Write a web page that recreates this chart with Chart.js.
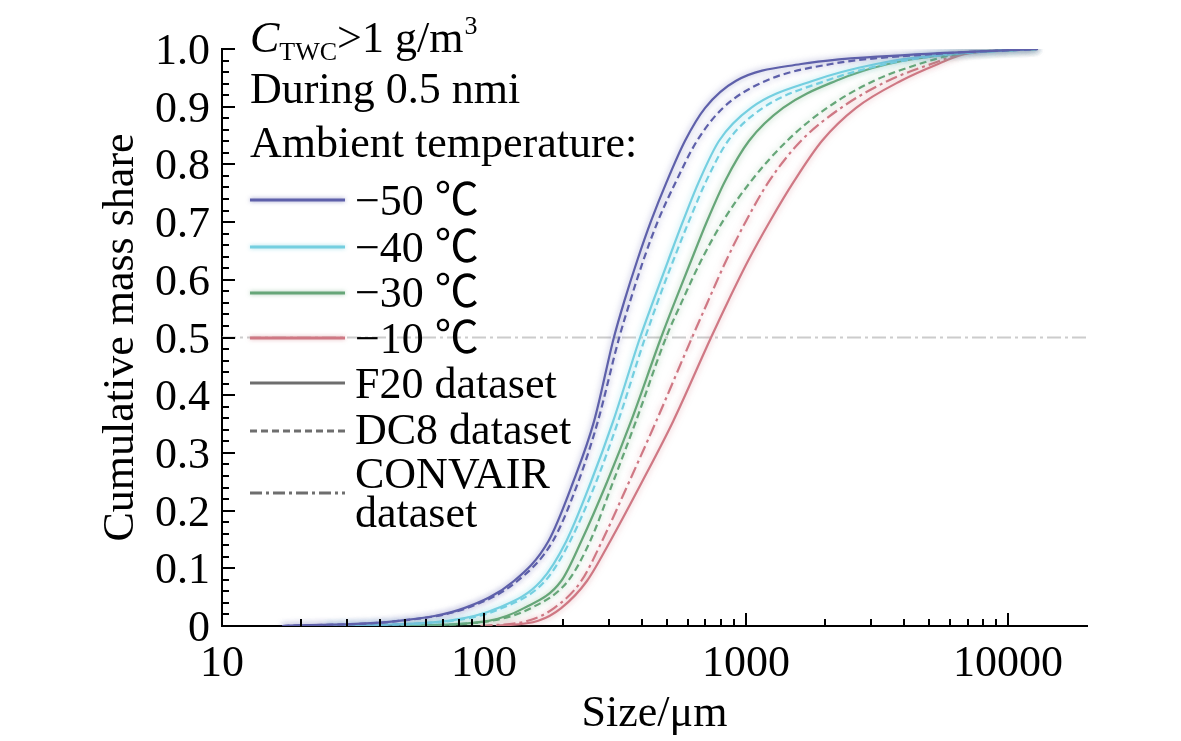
<!DOCTYPE html>
<html><head><meta charset="utf-8">
<script src="https://cdn.jsdelivr.net/npm/chart.js@4.4.1/dist/chart.umd.min.js"></script>
<style>html,body{margin:0;padding:0;background:#fff;} canvas{display:block;}</style>
</head><body>
<canvas id="c" width="1181" height="741"></canvas>
<script>
// ---- data (cumulative mass share levels and particle sizes in µm) ----
const cumShare      = [0, 0.009, 0.031, 0.078, 0.147, 0.25, 0.355, 0.5, 0.563, 0.633, 0.702, 0.771, 0.841, 0.898, 0.945, 0.974, 0.991, 1.0];
const size_m50_F20  = [17, 47, 84, 130, 176, 219, 263, 313, 343, 384, 434, 499, 585, 698, 916, 1622, 4655, 13000];
const size_m50_DC8  = [17, 48, 86, 134, 183, 229, 272, 328, 361, 405, 461, 541, 650, 817, 1192, 2110, 5083, 13000];
const size_m40_F20  = [25, 73, 113, 165, 206, 256, 311, 394, 442, 504, 575, 662, 789, 1045, 1802, 3135, 5799, 13000];
const size_m40_DC8  = [25, 75, 117, 171, 213, 268, 325, 412, 461, 527, 606, 704, 854, 1161, 2020, 3423, 6060, 13000];
const size_m30_F20  = [48, 104, 142, 197, 235, 295, 364, 474, 536, 617, 710, 831, 1027, 1384, 2206, 3484, 6060, 13000];
const size_m30_DC8  = [50, 106, 151, 209, 254, 311, 380, 495, 570, 673, 817, 1045, 1434, 2038, 3080, 4574, 6331, 13000];
const size_m10_CONV = [97, 147, 185, 235, 282, 358, 454, 622, 716, 839, 1000, 1224, 1622, 2305, 3484, 5083, 6616, 13000];
const size_m10_F20  = [111, 161, 197, 247, 303, 401, 527, 735, 854, 1018, 1235, 1525, 1950, 2629, 3905, 5404, 6794, 13000];
const refSize  = [10, 20000];
const refShare = [0.5, 0.5];

const xTickLabels = ['10', '100', '1000', '10000'];
const xTickValues = [10, 100, 1000, 10000];
const yTickLabels = ['0', '0.1', '0.2', '0.3', '0.4', '0.5', '0.6', '0.7', '0.8', '0.9', '1.0'];
const xTitle = 'Size/μm';
const yTitle = 'Cumulative mass share';
const legendTemps = ['−50 ℃', '−40 ℃', '−30 ℃', '−10 ℃'];
const legendStyles = ['F20 dataset', 'DC8 dataset', 'CONVAIR', 'dataset'];

// ---- styles ----
const C_BLUE = '#5e60aa', C_CYAN = '#74cfe0', C_GREEN = '#66a678', C_RED = '#cf7884', C_GRAY = '#6e6e6e';
const G_BLUE = 'rgba(94,96,170,0.6)', G_CYAN = 'rgba(116,207,224,0.65)', G_GREEN = 'rgba(102,166,120,0.55)', G_RED = 'rgba(207,120,132,0.55)';
const DASH = [7, 4], DASHDOT = [12, 4, 3, 4];
const FONT = "'Liberation Serif', 'Noto Sans CJK SC', serif";

function pts(sizes) { return cumShare.map((y, i) => ({x: sizes[i], y: y})); }
function ds(sizes, color, glow, dash) {
  return {data: pts(sizes), borderColor: color, glow: glow, borderDash: dash, borderWidth: 2.2,
          pointRadius: 0, cubicInterpolationMode: 'monotone', fill: false};
}

const datasets = [
  ds(size_m50_F20, C_BLUE, G_BLUE, []),
  ds(size_m50_DC8, C_BLUE, G_BLUE, DASH),
  ds(size_m40_F20, C_CYAN, G_CYAN, []),
  ds(size_m40_DC8, C_CYAN, G_CYAN, DASH),
  ds(size_m30_F20, C_GREEN, G_GREEN, []),
  ds(size_m30_DC8, C_GREEN, G_GREEN, DASH),
  ds(size_m10_CONV, C_RED, G_RED, DASHDOT),
  ds(size_m10_F20, C_RED, G_RED, []),
  {data: refSize.map((x, i) => ({x: x, y: refShare[i]})), borderColor: '#cccccc', borderWidth: 2,
   borderDash: [14, 4, 3, 4], pointRadius: 0, fill: false, glow: null, order: 10}
];

const glowPlugin = {
  id: 'glow',
  beforeDatasetDraw(chart, args) {
    const d = chart.data.datasets[args.index];
    chart.ctx.save();
    if (d.glow) { chart.ctx.shadowColor = d.glow; chart.ctx.shadowBlur = 6; }
  },
  afterDatasetDraw(chart) { chart.ctx.restore(); }
};

const decorPlugin = {
  id: 'decor',
  afterDraw(chart) {
    const ctx = chart.ctx, xs = chart.scales.x, ys = chart.scales.y, area = chart.chartArea;
    ctx.save();
    ctx.strokeStyle = '#000'; ctx.lineWidth = 2; ctx.lineCap = 'butt';
    // y ticks (inward)
    for (let k = 0; k <= 50; k++) {
      const v = k / 50, py = Math.round(ys.getPixelForValue(v));
      const len = (k % 5 === 0) ? 13 : 7;
      ctx.beginPath(); ctx.moveTo(area.left, py); ctx.lineTo(area.left + len, py); ctx.stroke();
    }
    // x ticks (inward)
    for (let d = 10; d <= 10000; d *= 10) {
      for (let m = 1; m <= 9; m++) {
        const v = d * m; if (v >= xs.max) continue;
        const px = Math.round(xs.getPixelForValue(v));
        const len = (m === 1) ? 13 : 7;
        ctx.beginPath(); ctx.moveTo(px, area.bottom); ctx.lineTo(px, area.bottom - len); ctx.stroke();
      }
    }
    ctx.fillStyle = '#000';
    ctx.font = '44px ' + FONT;
    // y labels
    ctx.textAlign = 'right'; ctx.textBaseline = 'alphabetic';
    yTickLabels.forEach((t, i) => {
      const py = ys.getPixelForValue(i / 10);
      ctx.fillText(t, area.left - 12, py + 15);
    });
    // x labels
    ctx.textAlign = 'center';
    xTickLabels.forEach((t, i) => {
      ctx.fillText(t, xs.getPixelForValue(xTickValues[i]), area.bottom + 50);
    });
    // x title
    ctx.fillText(xTitle, (area.left + area.right) / 2, area.bottom + 100);
    // y title
    ctx.save();
    ctx.translate(133, (area.top + area.bottom) / 2);
    ctx.rotate(-Math.PI / 2);
    ctx.fillText(yTitle, 0, 0);
    ctx.restore();

    // legend block
    const lx = area.left + 28;
    ctx.textAlign = 'left';
    let x = lx, base = 52;
    ctx.font = 'italic 44px ' + FONT; ctx.fillText('C', x, base); x += ctx.measureText('C').width;
    ctx.font = '26px ' + FONT; ctx.fillText('TWC', x, base + 8); x += ctx.measureText('TWC').width;
    ctx.font = '44px ' + FONT; ctx.fillText('>1 g/m', x, base); x += ctx.measureText('>1 g/m').width + 1;
    ctx.font = '26px ' + FONT; ctx.fillText('3', x, base - 18);
    ctx.font = '44px ' + FONT;
    ctx.fillText('During 0.5 nmi', lx, 103);
    ctx.fillText('Ambient temperature:', lx, 157);

    const rows = [
      {t: legendTemps[0], c: C_BLUE, g: G_BLUE, d: [], ly: 200, by: 215},
      {t: legendTemps[1], c: C_CYAN, g: G_CYAN, d: [], ly: 247, by: 262},
      {t: legendTemps[2], c: C_GREEN, g: G_GREEN, d: [], ly: 293, by: 307},
      {t: legendTemps[3], c: C_RED, g: G_RED, d: [], ly: 338, by: 353},
      {t: legendStyles[0], c: C_GRAY, g: null, d: [], ly: 383, by: 398},
      {t: legendStyles[1], c: C_GRAY, g: null, d: DASH, ly: 431, by: 444},
      {t: legendStyles[2], c: C_GRAY, g: null, d: DASHDOT, ly: 493, by: 488}
    ];
    rows.forEach(r => {
      ctx.save();
      ctx.strokeStyle = r.c; ctx.lineWidth = 3; ctx.setLineDash(r.d);
      if (r.g) { ctx.shadowColor = r.g; ctx.shadowBlur = 4; }
      ctx.beginPath(); ctx.moveTo(lx, r.ly); ctx.lineTo(lx + 95, r.ly); ctx.stroke();
      ctx.restore();
      ctx.fillText(r.t, lx + 105, r.by);
    });
    ctx.fillText(legendStyles[3], lx + 105, 527);
    ctx.restore();
  }
};

new Chart(document.getElementById('c'), {
  type: 'line',
  data: {datasets: datasets},
  plugins: [glowPlugin, decorPlugin],
  options: {
    responsive: false, animation: false, devicePixelRatio: 1,
    layout: {padding: {left: 0, right: 94, top: 49, bottom: 0}},
    plugins: {legend: {display: false}, tooltip: {enabled: false}},
    scales: {
      x: {type: 'logarithmic', min: 10, max: 20000,
          afterFit(s) { s.height = 115; },
          ticks: {display: false}, grid: {display: false},
          border: {display: true, color: '#000', width: 2}},
      y: {type: 'linear', min: 0, max: 1,
          afterFit(s) { s.width = 222; },
          ticks: {display: false}, grid: {display: false},
          border: {display: true, color: '#000', width: 2}}
    }
  }
});
</script>
</body></html>
